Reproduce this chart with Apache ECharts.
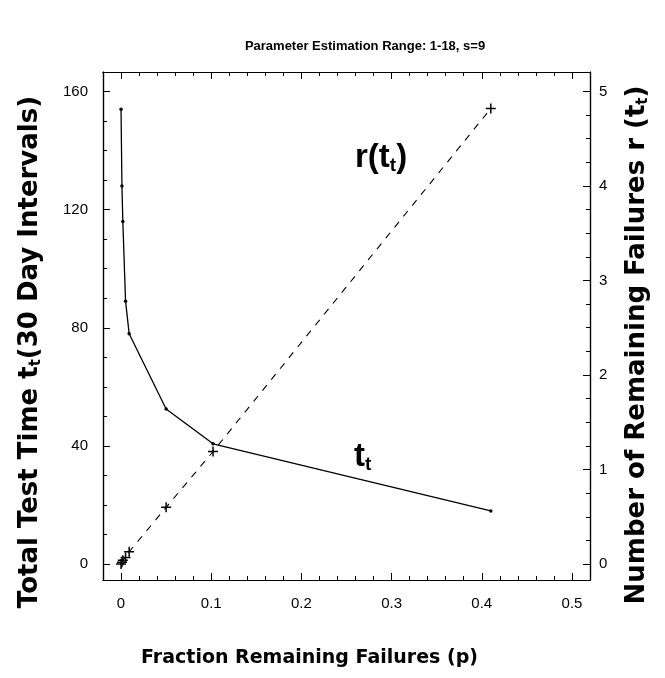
<!DOCTYPE html>
<html>
<head>
<meta charset="utf-8">
<script src="https://cdn.jsdelivr.net/npm/echarts@6/dist/echarts.min.js"></script>
<style>html,body{margin:0;padding:0;background:#fff}#c{width:665px;height:678px}</style>
</head>
<body>
<div id="c"></div>
<script>
// ---- data ----
const pValues = [0, 0.001, 0.002, 0.005, 0.009, 0.05, 0.102, 0.41];
const tValues = [154, 128, 116, 89, 78, 52.5, 40.7, 18];
const rValues = [0, 0.02, 0.04, 0.07, 0.13, 0.6, 1.19, 4.82];
const xTickLabels = [0, 0.1, 0.2, 0.3, 0.4, 0.5];
const leftTickLabels = [0, 40, 80, 120, 160];
const rightTickLabels = [0, 1, 2, 3, 4, 5];
const titleText = 'Parameter Estimation Range: 1-18, s=9';
const xName = 'Fraction Remaining Failures (p)';
const leftName = ['Total Test Time t', 't', '(30 Day Intervals)'];
const rightName = ['Number of Remaining Failures r (t', 't', ')'];

const FONT = '"Liberation Sans", Arial, sans-serif';
const WIDE = '"DejaVu Sans", "Liberation Sans", sans-serif';
function minors(start, end, step) {
  const out = [];
  for (let v = start; v <= end + 1e-9; v += step) out.push(+v.toFixed(4));
  return out;
}
const xMinor = minors(0, 0.5, 0.02);
const leftMinor = minors(0, 160, 10);
const rightMinor = minors(0, 5, 0.25);

const X_MIN = -0.02, X_MAX = 0.52;
const L_MIN = -5.4, L_MAX = 166.6;
const R_MIN = -0.169, R_MAX = 5.206;

function xAx(pos, major, labels) {
  return {
    type: 'value', position: pos, min: X_MIN, max: X_MAX,
    axisLine: { show: true, onZero: false, lineStyle: { color: '#000', width: 1.2 } },
    splitLine: { show: false },
    axisTick: { show: true, inside: true, length: major ? 7 : 4, customValues: major ? xTickLabels : xMinor, lineStyle: { color: '#000', width: 1 } },
    axisLabel: labels ? { show: true, customValues: xTickLabels, margin: 16, fontSize: 15, color: '#000', fontFamily: FONT, formatter: v => String(+v.toFixed(1)) } : { show: false }
  };
}
function yAx(pos, min, max, majorVals, minorVals, major, labels) {
  return {
    type: 'value', position: pos, min: min, max: max,
    axisLine: { show: true, onZero: false, lineStyle: { color: '#000', width: 1.2 } },
    splitLine: { show: false },
    axisTick: { show: true, inside: true, length: major ? 7 : 4, customValues: major ? majorVals : minorVals, lineStyle: { color: '#000', width: 1 } },
    axisLabel: labels ? { show: true, customValues: majorVals, margin: pos === 'left' ? 15 : 9, fontSize: 15, color: '#000', fontFamily: FONT } : { show: false }
  };
}

const chart = echarts.init(document.getElementById('c'), null, { renderer: 'canvas' });
const xAxes = [
  Object.assign(xAx('bottom', true, true), {
    name: xName, nameLocation: 'middle', nameGap: 69,
    nameTextStyle: { fontSize: 19, fontWeight: 'bold', color: '#000', fontFamily: WIDE, padding: [0, 74, 0, 0] }
  }),
  xAx('bottom', false, false),
  xAx('top', true, false),
  xAx('top', false, false)
];
const yAxes = [
  yAx('left', L_MIN, L_MAX, leftTickLabels, leftMinor, true, true),
  yAx('right', R_MIN, R_MAX, rightTickLabels, rightMinor, true, true),
  yAx('left', L_MIN, L_MAX, leftTickLabels, leftMinor, false, false),
  yAx('right', R_MIN, R_MAX, rightTickLabels, rightMinor, false, false)
];

const plus = 'path://M4,0h1.4v4h4v1.4h-4v4h-1.4v-4h-4v-1.4h4z';
const nameRich = {
  a: { fontSize: 26, fontWeight: 'bold', fontFamily: WIDE, fill: '#000' },
  s: { fontSize: 15, fontWeight: 'bold', fontFamily: WIDE, fill: '#000', padding: [12, 0, 0, 0] }
};
const annRich = {
  a: { fontSize: 33, fontWeight: 'bold', fontFamily: FONT, fill: '#000' },
  s: { fontSize: 19, fontWeight: 'bold', fontFamily: FONT, fill: '#000', padding: [16, 0, 0, 0] }
};

chart.setOption({
  animation: false,
  backgroundColor: '#fff',
  title: {
    text: titleText, left: 360, top: 35, textAlign: 'center',
    textStyle: { fontSize: 13, fontWeight: 'bold', color: '#000', fontFamily: FONT }
  },
  grid: { left: 103, right: 75, top: 72, bottom: 98, containLabel: false },
  xAxis: xAxes,
  yAxis: yAxes,
  graphic: [
    { type: 'text', x: 30, y: 352, rotation: Math.PI / 2,
      style: { rich: nameRich, align: 'center', verticalAlign: 'middle', text: '{a|' + leftName[0] + '}{s|' + leftName[1] + '}{a|' + leftName[2] + '}' } },
    { type: 'text', x: 637, y: 345, rotation: Math.PI / 2,
      style: { rich: nameRich, align: 'center', verticalAlign: 'middle', text: '{a|' + rightName[0] + '}{s|' + rightName[1] + '}{a|' + rightName[2] + '}' } },
    { type: 'text', left: 355, top: 141, style: { rich: annRich, text: '{a|r(t}{s|t}{a|)}' } },
    { type: 'text', left: 354, top: 440, style: { rich: annRich, text: '{a|t}{s|t}' } }
  ],
  series: [
    {
      type: 'line', name: 't', xAxisIndex: 0, yAxisIndex: 0,
      data: pValues.map((p, i) => [p, tValues[i]]),
      symbol: 'circle', symbolSize: 3.5, showSymbol: true,
      lineStyle: { color: '#000', width: 1.3 }, itemStyle: { color: '#000' }
    },
    {
      type: 'line', name: 'r', xAxisIndex: 0, yAxisIndex: 1,
      data: pValues.map((p, i) => [p, rValues[i]]),
      symbol: plus, symbolSize: 10, showSymbol: true,
      lineStyle: { color: '#000', width: 1.1, type: [7, 7] }, itemStyle: { color: '#000' }
    }
  ]
});
</script>
</body>
</html>
